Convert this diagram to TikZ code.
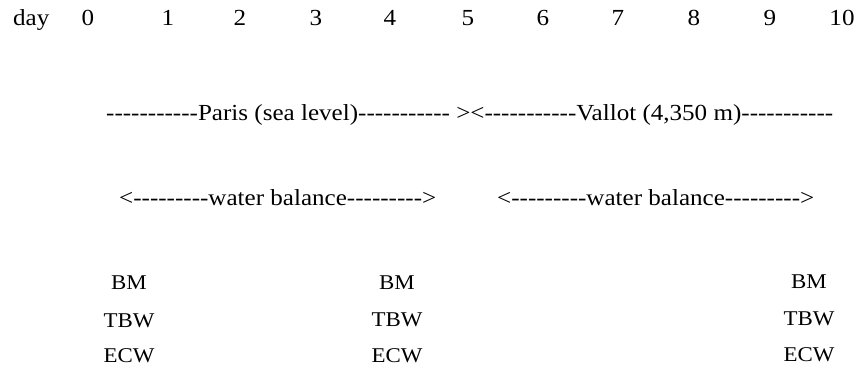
\documentclass[tikz,border=0pt]{standalone}
\usepackage{fontspec}
\setmainfont{Liberation Serif}[FakeStretch=1.09]
\newcommand\hyrun[1]{\foreach \k in {1,...,#1}{-\kern0pt}}
\begin{document}
\begin{tikzpicture}[x=1pt,y=-1pt,
  big/.style={inner sep=0pt,anchor=base,font=\fontsize{23}{27}\selectfont},
  bigw/.style={big,anchor=base west},
  var/.style={inner sep=0pt,anchor=base,font=\fontsize{21}{25}\selectfont}]
\useasboundingbox (0,0) rectangle (861,367);
% day row
\node[bigw] (day) at (13,25) {day};
\foreach \n/\x in {0/88,1/168,2/240,3/316,4/390,5/468,6/543,7/618,8/694,9/770,10/842}
  \node[big] (d\n) at (\x,25) {\n};
% location row
\node[bigw] (loc) at (106,120) {\hyrun{11}Paris (sea level)\hyrun{11} >{}<\hyrun{11}Vallot (4,350 m)\hyrun{11}};
% water balance row
\node[bigw] (wb1) at (119,205) {<\hyrun{9}water balance\hyrun{9}>};
\node[bigw] (wb2) at (497,205) {<\hyrun{9}water balance\hyrun{9}>};
% measurement columns
\foreach \c/\x/\ya/\yb/\yc in {a/129/289/327/362, b/397/289/326/362, c/809/288/325/361}{
  \node[var] (bm\c) at (\x,\ya) {BM};
  \node[var] (tbw\c) at (\x,\yb) {TBW};
  \node[var] (ecw\c) at (\x,\yc) {ECW};
}
\end{tikzpicture}
\end{document}
